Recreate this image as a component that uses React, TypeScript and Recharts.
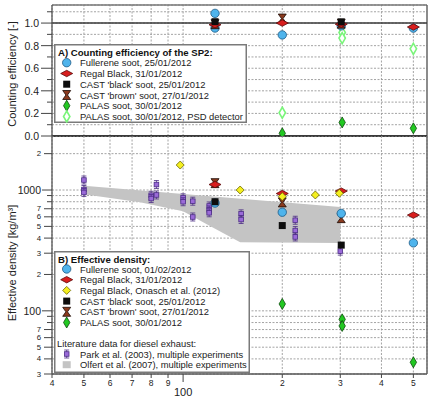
import React from 'react';
import {
  ScatterChart,
  Scatter,
  XAxis,
  YAxis,
  CartesianGrid,
  ReferenceLine,
  Legend,
} from 'recharts';

const FONT = '"Liberation Sans", Arial, Helvetica, sans-serif';

// mobility diameter axis (nm, log) and the two y axes
const diameterTicks = [40, 50, 60, 70, 80, 90, 100, 200, 300, 400, 500];
const efficiencyTicks = [0, 0.1, 0.2, 0.3, 0.4, 0.5, 0.6, 0.7, 0.8, 0.9, 1.0, 1.1];
const densityTicks = [30, 40, 50, 60, 70, 80, 90, 100, 200, 300, 400, 500, 600, 700, 800, 900, 1000, 2000];

// A) counting efficiency of the SP2  (d = mobility diameter nm, v = efficiency)
const ceFullerene = [
  { d: 125, v: 1.086 },
  { d: 125, v: 0.956 },
  { d: 200, v: 0.895 },
  { d: 302, v: 0.975 },
  { d: 500, v: 0.955 },
];
const ceRegal = [
  { d: 125, v: 0.985 },
  { d: 200, v: 1.0 },
  { d: 302, v: 0.99 },
  { d: 500, v: 0.965 },
];
const ceCastBlack = [
  { d: 125, v: 1.012 },
  { d: 302, v: 1.01 },
];
const ceCastBrown = [
  { d: 125, v: 0.99 },
  { d: 200, v: 1.04 },
  { d: 302, v: 0.995 },
];
const cePalas = [
  { d: 200, v: 0.024 },
  { d: 304, v: 0.12 },
  { d: 500, v: 0.068 },
];
const cePalasPsd = [
  { d: 200, v: 0.206 },
  { d: 304, v: 0.916 },
  { d: 304, v: 0.867 },
  { d: 500, v: 0.772 },
];

// B) effective density (kg/m3)
const rhoFullerene = [
  { d: 125, v: 780 },
  { d: 200, v: 655 },
  { d: 302, v: 640 },
  { d: 500, v: 365 },
];
const rhoRegal = [
  { d: 125, v: 1110 },
  { d: 200, v: 935 },
  { d: 302, v: 980 },
  { d: 500, v: 620 },
];
const rhoOnasch = [
  { d: 98, v: 1610 },
  { d: 149, v: 1000 },
  { d: 200, v: 882 },
  { d: 252, v: 910 },
  { d: 298, v: 940 },
];
const rhoCastBlack = [
  { d: 125, v: 800 },
  { d: 200, v: 508 },
  { d: 302, v: 350 },
];
const rhoCastBrown = [
  { d: 125, v: 1140 },
  { d: 200, v: 790 },
  { d: 302, v: 585 },
];
const rhoPalas = [
  { d: 200, v: 114 },
  { d: 304, v: 85 },
  { d: 304, v: 75 },
  { d: 500, v: 37.5 },
];
// literature, diesel exhaust
const rhoPark = [
  { d: 50, v: 1210 },
  { d: 50, v: 1010 },
  { d: 50, v: 955 },
  { d: 80, v: 905 },
  { d: 80, v: 850 },
  { d: 83, v: 1110 },
  { d: 83, v: 910 },
  { d: 100, v: 862 },
  { d: 100, v: 800 },
  { d: 107, v: 808 },
  { d: 107, v: 598 },
  { d: 120, v: 738 },
  { d: 120, v: 684 },
  { d: 120, v: 648 },
  { d: 150, v: 635 },
  { d: 150, v: 570 },
  { d: 219, v: 562 },
  { d: 219, v: 462 },
  { d: 219, v: 409 },
  { d: 300, v: 312 },
];
// outline of the Olfert et al. range, walked clockwise
const olfertBand = [
  { d: 50, v: 1083 },
  { d: 300, v: 724 },
  { d: 300, v: 364 },
  { d: 149, v: 370 },
  { d: 118, v: 521 },
  { d: 100, v: 667 },
  { d: 74, v: 791 },
  { d: 50, v: 922 },
];

type Pt = { cx?: number; cy?: number };

const FullereneDot = ({ cx = 0, cy = 0 }: Pt) => (
  <circle cx={cx} cy={cy} r={4.2} fill="#4fb4ec" stroke="#1d5a85" strokeWidth={0.8} />
);
const RegalDot = ({ cx = 0, cy = 0 }: Pt) => (
  <polygon
    points={`${cx - 6},${cy} ${cx},${cy - 3.2} ${cx + 6},${cy} ${cx},${cy + 3.2}`}
    fill="#d81e1e"
    stroke="#5c0a0a"
    strokeWidth={0.8}
  />
);
const OnaschDot = ({ cx = 0, cy = 0 }: Pt) => (
  <polygon
    points={`${cx - 4},${cy} ${cx},${cy - 4} ${cx + 4},${cy} ${cx},${cy + 4}`}
    fill="#f4ef1f"
    stroke="#6a6400"
    strokeWidth={0.8}
  />
);
const CastBlackDot = ({ cx = 0, cy = 0 }: Pt) => (
  <rect x={cx - 3.5} y={cy - 3.5} width={7} height={7} fill="#0d0d0d" />
);
const CastBrownDot = ({ cx = 0, cy = 0 }: Pt) => (
  <polygon
    points={`${cx - 4},${cy - 4.5} ${cx + 4},${cy - 4.5} ${cx + 0.8},${cy} ${cx + 4},${cy + 4.5} ${cx - 4},${cy + 4.5} ${cx - 0.8},${cy}`}
    fill="#8a3a1e"
    stroke="#1a0a04"
    strokeWidth={0.8}
  />
);
const PalasDot = ({ cx = 0, cy = 0 }: Pt) => (
  <polygon
    points={`${cx},${cy - 5.5} ${cx + 3.2},${cy} ${cx},${cy + 5.5} ${cx - 3.2},${cy}`}
    fill="#22c822"
    stroke="#0c4a0c"
    strokeWidth={0.8}
  />
);
const PalasPsdDot = ({ cx = 0, cy = 0 }: Pt) => (
  <polygon
    points={`${cx},${cy - 5.5} ${cx + 3.2},${cy} ${cx},${cy + 5.5} ${cx - 3.2},${cy}`}
    fill="#ffffff"
    stroke="#7af57a"
    strokeWidth={1.6}
  />
);
const ParkDot = ({ cx = 0, cy = 0 }: Pt) => (
  <g stroke="#4b2c85" strokeWidth={0.8}>
    <line x1={cx} x2={cx} y1={cy - 4} y2={cy + 4} />
    <line x1={cx - 2.5} x2={cx + 2.5} y1={cy - 4} y2={cy - 4} />
    <line x1={cx - 2.5} x2={cx + 2.5} y1={cy + 4} y2={cy + 4} />
    <rect x={cx - 2.3} y={cy - 2.3} width={4.6} height={4.6} fill="#9a6ad8" />
  </g>
);
const OlfertSwatch = ({ cx = 0, cy = 0 }: Pt) => (
  <rect x={cx - 4} y={cy - 3.5} width={8} height={7} fill="#c4c4c4" />
);
const NoDot = () => <g />;

// filled polygon through the scatter points
const BandFill = (props: any) => {
  const pts = (props.points || []).map((p: any) => `${p.x},${p.y}`).join(' ');
  return <polygon points={pts} fill="#c4c4c4" stroke="none" />;
};

const EfficiencyTick = ({ x, y, payload }: any) => {
  const v: number = payload.value;
  const tenths = Math.round(v * 10);
  const labelled = tenths % 2 === 0 && tenths <= 10;
  return (
    <g>
      <line x1={x - (labelled ? 11 : 5)} x2={x} y1={y} y2={y} stroke="#444" strokeWidth={1} />
      {labelled && (
        <text x={x - 13} y={y} textAnchor="end" dominantBaseline="central" fontSize={10.5} fill="#222" fontFamily={FONT}>
          {v.toFixed(1)}
        </text>
      )}
    </g>
  );
};

const DensityTick = ({ x, y, payload }: any) => {
  const v: number = payload.value;
  const exp = Math.floor(Math.log10(v) + 1e-9);
  const mant = Math.round(v / Math.pow(10, exp));
  const major = mant === 1;
  const labelled = mant < 8;
  const len = major ? 10 : labelled ? 8 : 5;
  return (
    <g>
      <line x1={x - len} x2={x} y1={y} y2={y} stroke="#444" strokeWidth={1} />
      {labelled && (
        <text
          x={x - 11}
          y={y}
          textAnchor="end"
          dominantBaseline="central"
          fontSize={major ? 10.5 : 7.8}
          fill="#222"
          fontFamily={FONT}
        >
          {major ? String(v) : String(mant)}
        </text>
      )}
    </g>
  );
};

const DiameterTick = ({ x, y, payload }: any) => {
  const v: number = payload.value;
  const major = v === 100;
  const label = major ? '100' : String(v >= 100 ? v / 100 : v / 10);
  return (
    <g>
      <line x1={x} x2={x} y1={y} y2={y + (major ? 8 : 4)} stroke="#444" strokeWidth={1} />
      <text
        x={x}
        y={y + (major ? 18 : 9)}
        textAnchor="middle"
        dominantBaseline="central"
        fontSize={major ? 11 : 8.5}
        fill="#222"
        fontFamily={FONT}
      >
        {label}
      </text>
    </g>
  );
};

type Row = { label: string; Icon: React.FC<Pt>; y: number };

const LegendBox = ({
  width,
  height,
  title,
  rows,
  note,
}: {
  width: number;
  height: number;
  title: string;
  rows: Row[];
  note?: { text: string; y: number };
}) => (
  <svg width={width} height={height} style={{ display: 'block', fontFamily: FONT }}>
    <rect x={0.75} y={0.75} width={width - 1.5} height={height - 1.5} fill="#fff" stroke="#7a7a7a" strokeWidth={1.5} />
    <text x={4} y={8} dominantBaseline="central" fontSize={9.6} fontWeight="bold" fill="#111">
      {title}
    </text>
    {rows.map((r) => (
      <g key={r.label}>
        <r.Icon cx={12.7} cy={r.y} />
        <text x={26} y={r.y} dominantBaseline="central" fontSize={9.4} fill="#222">
          {r.label}
        </text>
      </g>
    ))}
    {note && (
      <text x={3} y={note.y} dominantBaseline="central" fontSize={9.4} fill="#222">
        {note.text}
      </text>
    )}
  </svg>
);

const rowsA: Row[] = [
  { label: 'Fullerene soot, 25/01/2012', Icon: FullereneDot, y: 18.7 },
  { label: 'Regal Black, 31/01/2012', Icon: RegalDot, y: 29.5 },
  { label: "CAST 'black' soot, 25/01/2012", Icon: CastBlackDot, y: 40.2 },
  { label: "CAST 'brown' soot, 27/01/2012", Icon: CastBrownDot, y: 51 },
  { label: 'PALAS soot, 30/01/2012', Icon: PalasDot, y: 61.7 },
  { label: 'PALAS soot, 30/01/2012, PSD detector', Icon: PalasPsdDot, y: 72.5 },
];

const rowsB: Row[] = [
  { label: 'Fullerene soot, 01/02/2012', Icon: FullereneDot, y: 18 },
  { label: 'Regal Black, 31/01/2012', Icon: RegalDot, y: 28.7 },
  { label: 'Regal Black, Onasch et al. (2012)', Icon: OnaschDot, y: 39.4 },
  { label: "CAST 'black' soot, 25/01/2012", Icon: CastBlackDot, y: 50.1 },
  { label: "CAST 'brown' soot, 27/01/2012", Icon: CastBrownDot, y: 60.8 },
  { label: 'PALAS soot, 30/01/2012', Icon: PalasDot, y: 71.5 },
  { label: 'Park et al. (2003), multiple experiments', Icon: ParkDot, y: 103 },
  { label: 'Olfert et al. (2007), multiple experiments', Icon: OlfertSwatch, y: 113.7 },
];

const gridProps = { stroke: '#9a9a9a', strokeDasharray: '2 1.5', strokeWidth: 0.9 };

export default function App() {
  return (
    <div style={{ position: 'absolute', left: 0, top: 0, width: 429, height: 406, background: '#fff', fontFamily: FONT }}>
      {/* A) counting efficiency */}
      <div style={{ position: 'absolute', left: 0, top: 0 }}>
        <ScatterChart width={429} height={143} margin={{ top: 5, right: 2, bottom: 7, left: 0 }}>
          <CartesianGrid {...gridProps} vertical={false} />
          <XAxis
            dataKey="d"
            type="number"
            scale="log"
            domain={[40, 550]}
            ticks={diameterTicks}
            interval={0}
            allowDataOverflow
            hide
          />
          <YAxis
            dataKey="v"
            type="number"
            domain={[0, 1.16]}
            ticks={efficiencyTicks}
            interval={0}
            width={52}
            tickSize={0}
            tickMargin={0}
            tick={<EfficiencyTick />}
            axisLine={{ stroke: '#555', strokeWidth: 1.3 }}
            tickLine={false}
            allowDataOverflow
          />
          {diameterTicks.map((t) => (
            <ReferenceLine key={t} x={t} {...gridProps} />
          ))}
          <ReferenceLine y={1.16} stroke="#777" strokeWidth={1.3} />
          <ReferenceLine x={550} stroke="#666" strokeWidth={1.5} />
          <ReferenceLine y={1} stroke="#3a3a3a" strokeWidth={1.6} />
          <ReferenceLine y={0} stroke="#3a3a3a" strokeWidth={1.8} />
          <Scatter data={cePalasPsd} shape={PalasPsdDot} isAnimationActive={false} />
          <Scatter data={cePalas} shape={PalasDot} isAnimationActive={false} />
          <Scatter data={ceFullerene} shape={FullereneDot} isAnimationActive={false} />
          <Scatter data={ceCastBrown} shape={CastBrownDot} isAnimationActive={false} />
          <Scatter data={ceRegal} shape={RegalDot} isAnimationActive={false} />
          <Scatter data={ceCastBlack} shape={CastBlackDot} isAnimationActive={false} />
          <Legend
            layout="vertical"
            align="center"
            verticalAlign="middle"
            wrapperStyle={{ left: 54, top: 44, width: 193, height: 79 }}
            content={() => <LegendBox width={193} height={79} title="A) Counting efficiency of the SP2:" rows={rowsA} />}
          />
        </ScatterChart>
      </div>

      {/* B) effective density */}
      <div style={{ position: 'absolute', left: 0, top: 136 }}>
        <ScatterChart width={429} height={270} margin={{ top: 0, right: 2, bottom: 0, left: 0 }}>
          <CartesianGrid {...gridProps} />
          <XAxis
            dataKey="d"
            type="number"
            scale="log"
            domain={[40, 550]}
            ticks={diameterTicks}
            interval={0}
            height={32}
            tickSize={0}
            tickMargin={0}
            tick={<DiameterTick />}
            axisLine={{ stroke: '#555', strokeWidth: 1.3 }}
            tickLine={false}
            allowDataOverflow
          />
          <YAxis
            dataKey="v"
            type="number"
            scale="log"
            domain={[30, 2800]}
            ticks={densityTicks}
            interval={0}
            width={52}
            tickSize={0}
            tickMargin={0}
            tick={<DensityTick />}
            axisLine={{ stroke: '#555', strokeWidth: 1.3 }}
            tickLine={false}
            allowDataOverflow
          />
          <ReferenceLine x={550} stroke="#666" strokeWidth={1.5} />
          <Scatter data={olfertBand} line={BandFill} shape={NoDot} isAnimationActive={false} />
          <Scatter data={rhoPark} shape={ParkDot} isAnimationActive={false} />
          <Scatter data={rhoPalas} shape={PalasDot} isAnimationActive={false} />
          <Scatter data={rhoCastBrown} shape={CastBrownDot} isAnimationActive={false} />
          <Scatter data={rhoRegal} shape={RegalDot} isAnimationActive={false} />
          <Scatter data={rhoFullerene} shape={FullereneDot} isAnimationActive={false} />
          <Scatter data={rhoCastBlack} shape={CastBlackDot} isAnimationActive={false} />
          <Scatter data={rhoOnasch} shape={OnaschDot} isAnimationActive={false} />
          <Legend
            layout="vertical"
            align="center"
            verticalAlign="middle"
            wrapperStyle={{ left: 54, top: 115, width: 196, height: 122 }}
            content={() => (
              <LegendBox
                width={196}
                height={122}
                title="B) Effective density:"
                rows={rowsB}
                note={{ text: 'Literature data for diesel exhaust:', y: 92 }}
              />
            )}
          />
        </ScatterChart>
      </div>

      {/* axis titles */}
      <svg width={24} height={406} style={{ position: 'absolute', left: 0, top: 0 }}>
        <text
          transform="translate(12,74) rotate(-90)"
          textAnchor="middle"
          dominantBaseline="central"
          fontSize={11}
          fill="#222"
          fontFamily={FONT}
        >
          Counting efficiency [-]
        </text>
        <text
          transform="translate(12,263) rotate(-90)"
          textAnchor="middle"
          dominantBaseline="central"
          fontSize={11}
          fill="#222"
          fontFamily={FONT}
        >
          Effective density [kg/m³]
        </text>
      </svg>
    </div>
  );
}
